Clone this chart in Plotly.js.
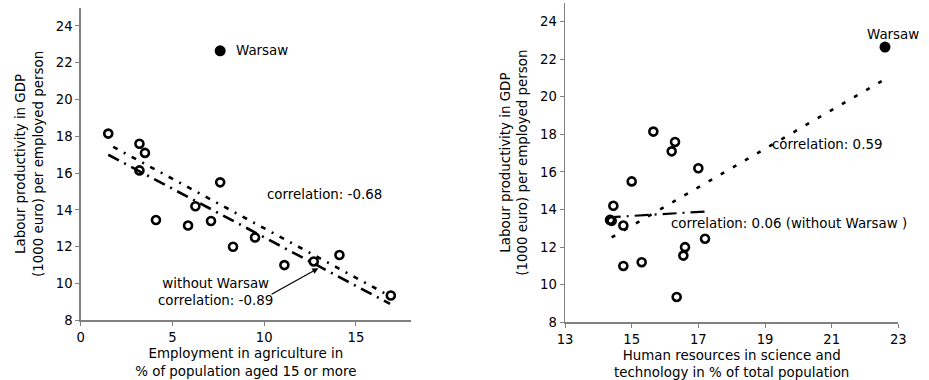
<!DOCTYPE html>
<html>
<head>
<meta charset="utf-8">
<script src="https://cdn.plot.ly/plotly-3.0.1.min.js"></script>
<style>html,body{margin:0;padding:0;background:#fff;}#chart{width:929px;height:380px;}</style>
</head>
<body>
<div id="chart"></div>
<script>
// Left panel: employment in agriculture (%) vs labour productivity (1000 euro)
const agriX = [1.5, 3.2, 3.5, 3.2, 4.1, 5.85, 6.25, 7.1, 7.6, 8.3, 9.5, 11.1, 12.7, 14.1, 16.9];
const agriY = [18.15, 17.6, 17.1, 16.15, 13.45, 13.15, 14.2, 13.4, 15.5, 12.0, 12.5, 11.0, 11.2, 11.55, 9.35];
const warsawAgriX = [7.6];
const warsawAgriY = [22.65];
// Trend lines (endpoints)
const agriFitAllX = [1.77, 16.7];
const agriFitAllY = [17.43, 9.4];
const agriFitNoWX = [1.5, 16.86];
const agriFitNoWY = [17.0, 8.89];

// Right panel: human resources in S&T (%) vs labour productivity
const hrstX = [15.65, 16.3, 16.2, 17.0, 15.0, 14.45, 14.35, 14.4, 14.75, 16.6, 16.55, 17.2, 14.75, 15.3, 16.35];
const hrstY = [18.15, 17.6, 17.1, 16.2, 15.5, 14.2, 13.45, 13.4, 13.15, 12.0, 11.55, 12.45, 11.0, 11.2, 9.35];
const warsawHrstX = [22.6];
const warsawHrstY = [22.65];
const hrstFitAllX = [14.4, 22.5];
const hrstFitAllY = [12.52, 20.83];
const hrstFitNoWX = [14.25, 17.23];
const hrstFitNoWY = [13.58, 13.9];

const FONT = 'DejaVu Sans, Arial, sans-serif';
const ANN = {family: FONT, size: 13.4, color: '#000'};
const TTL = {family: FONT, size: 13.4, color: '#000'};
const hollow = {symbol: 'circle-open', size: 8, color: '#000', line: {width: 2.6, color: '#000'}};
const filled = {symbol: 'circle', size: 11, color: '#000'};

const traces = [
  {x: agriFitAllX, y: agriFitAllY, xaxis: 'x', yaxis: 'y', mode: 'lines', line: {color: '#000', width: 2.6, dash: '5px,7px,2px,7px'}, hoverinfo: 'skip'},
  {x: agriFitNoWX, y: agriFitNoWY, xaxis: 'x', yaxis: 'y', mode: 'lines', line: {color: '#000', width: 2.6, dash: '12px,6px,2px,6px'}, hoverinfo: 'skip'},
  {x: agriX, y: agriY, xaxis: 'x', yaxis: 'y', mode: 'markers', marker: hollow},
  {x: warsawAgriX, y: warsawAgriY, xaxis: 'x', yaxis: 'y', mode: 'markers', marker: filled},
  {x: hrstFitAllX, y: hrstFitAllY, xaxis: 'x2', yaxis: 'y2', mode: 'lines', line: {color: '#000', width: 2.6, dash: '4px,10px'}, hoverinfo: 'skip'},
  {x: hrstFitNoWX, y: hrstFitNoWY, xaxis: 'x2', yaxis: 'y2', mode: 'lines', line: {color: '#000', width: 2.2, dash: '14px,6px,2px,6px'}, hoverinfo: 'skip'},
  {x: hrstX, y: hrstY, xaxis: 'x2', yaxis: 'y2', mode: 'markers', marker: hollow},
  {x: warsawHrstX, y: warsawHrstY, xaxis: 'x2', yaxis: 'y2', mode: 'markers', marker: filled}
];

const axisCommon = {
  showline: true, linecolor: '#808080', linewidth: 1.5,
  ticks: 'outside', ticklen: 4, tickcolor: '#808080', tickwidth: 1,
  showgrid: false, zeroline: false,
  tickfont: {family: FONT, size: 13.2, color: '#000'},
  fixedrange: true
};

const layout = {
  width: 929, height: 380,
  margin: {l: 0, r: 0, t: 0, b: 0},
  paper_bgcolor: '#fff', plot_bgcolor: '#fff',
  showlegend: false,
  font: {family: FONT, size: 13.4, color: '#000'},
  xaxis: Object.assign({}, axisCommon, {
    domain: [0.0869, 0.4424], range: [0, 18], tickvals: [0, 5, 10, 15], anchor: 'y',
    title: {text: 'Employment in agriculture in<br>% of population aged 15 or more', font: TTL, standoff: 5}
  }),
  yaxis: Object.assign({}, axisCommon, {
    domain: [0.1571, 0.98], range: [8, 25], tickvals: [8, 10, 12, 14, 16, 18, 20, 22, 24], anchor: 'x',
    title: {text: 'Labour productivity in GDP<br>(1000 euro) per employed person', font: TTL, standoff: 9}
  }),
  xaxis2: Object.assign({}, axisCommon, {
    domain: [0.6082, 0.9670], range: [13, 23], tickvals: [13, 15, 17, 19, 21, 23], anchor: 'y2',
    title: {text: 'Human resources in science and<br>technology in % of total population', font: TTL, standoff: 5}
  }),
  yaxis2: Object.assign({}, axisCommon, {
    domain: [0.1518, 0.9924], range: [8, 25], tickvals: [8, 10, 12, 14, 16, 18, 20, 22, 24], anchor: 'x2',
    title: {text: 'Labour productivity in GDP<br>(1000 euro) per employed person', font: TTL, standoff: 9}
  }),
  annotations: [
    {xref: 'x', yref: 'y', x: 8.37, y: 22.65, text: 'Warsaw', showarrow: false, xanchor: 'left', yanchor: 'middle', font: ANN},
    {xref: 'x', yref: 'y', x: 10.04, y: 14.86, text: 'correlation: -0.68', showarrow: false, xanchor: 'left', yanchor: 'middle', font: ANN},
    {xref: 'x', yref: 'y', x: 7.35, y: 9.55, text: 'without Warsaw<br>correlation: -0.89', showarrow: false, xanchor: 'center', yanchor: 'middle', align: 'center', font: ANN},
    {xref: 'x', yref: 'y', x: 12.95, y: 10.83, ax: 10.32, ay: 9.37, axref: 'x', ayref: 'y', text: '', showarrow: true, arrowhead: 2, arrowsize: 1, arrowwidth: 1.2, arrowcolor: '#000', standoff: 0},
    {xref: 'x2', yref: 'y2', x: 22.83, y: 23.32, text: 'Warsaw', showarrow: false, xanchor: 'center', yanchor: 'middle', font: ANN},
    {xref: 'x2', yref: 'y2', x: 19.15, y: 17.47, text: 'correlation: 0.59', showarrow: false, xanchor: 'left', yanchor: 'middle', font: ANN},
    {xref: 'x2', yref: 'y2', x: 16.13, y: 13.27, text: 'correlation: 0.06 (without Warsaw )', showarrow: false, xanchor: 'left', yanchor: 'middle', font: ANN}
  ]
};

Plotly.newPlot('chart', traces, layout, {displayModeBar: false, staticPlot: true});
</script>
</body>
</html>
